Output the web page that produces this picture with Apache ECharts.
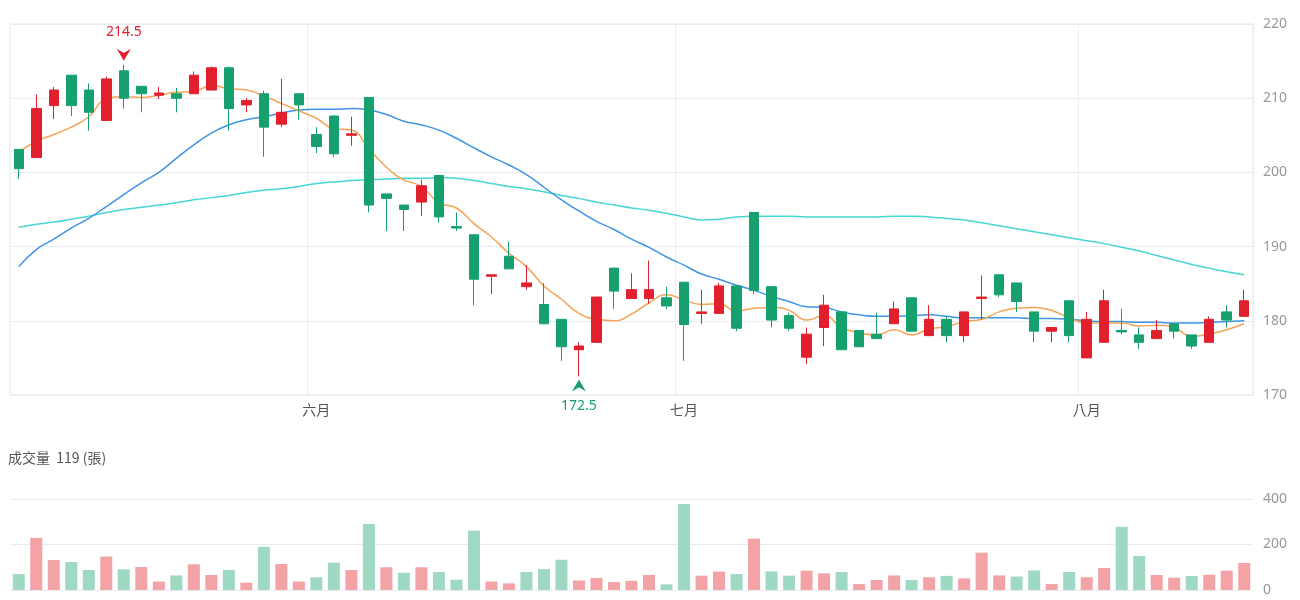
<!DOCTYPE html>
<html>
<head>
<meta charset="utf-8">
<script src="https://cdn.jsdelivr.net/npm/echarts@6/dist/echarts.min.js"></script>
<style>
html,body{margin:0;padding:0;background:#fff;}
#chart{width:1300px;height:600px;}
</style>
</head>
<body>
<div id="chart"></div>
<script>
// ---- data ----
const dates = [
 '2025-05-07','2025-05-08','2025-05-09','2025-05-12','2025-05-13','2025-05-14','2025-05-15','2025-05-16','2025-05-19','2025-05-20',
 '2025-05-21','2025-05-22','2025-05-23','2025-05-26','2025-05-27','2025-05-28','2025-05-29',
 '2025-06-02','2025-06-03','2025-06-04','2025-06-05','2025-06-06','2025-06-09','2025-06-10','2025-06-11','2025-06-12','2025-06-13',
 '2025-06-16','2025-06-17','2025-06-18','2025-06-19','2025-06-20','2025-06-23','2025-06-24','2025-06-25','2025-06-26','2025-06-27','2025-06-30',
 '2025-07-01','2025-07-02','2025-07-03','2025-07-04','2025-07-07','2025-07-08','2025-07-09','2025-07-10','2025-07-11',
 '2025-07-14','2025-07-15','2025-07-16','2025-07-17','2025-07-18','2025-07-21','2025-07-22','2025-07-23','2025-07-24','2025-07-25',
 '2025-07-28','2025-07-29','2025-07-30','2025-07-31',
 '2025-08-01','2025-08-04','2025-08-05','2025-08-06','2025-08-07','2025-08-08','2025-08-11','2025-08-12','2025-08-13','2025-08-14'
];
const monthNames = ['一月','二月','三月','四月','五月','六月','七月','八月','九月','十月','十一月','十二月'];

const opens  = [203.1,202.0,209.0,213.1,211.1,207.0,213.7,211.6,210.4,210.6,210.6,211.1,214.1,209.1,210.6,206.5,210.6,205.1,207.6,205.0,
                210.1,197.1,195.6,196.0,199.6,192.7,191.6,186.0,188.7,184.6,182.2,180.2,176.1,177.1,187.1,183.0,183.0,183.1,185.2,181.0,
                181.0,184.7,194.6,184.6,180.7,175.1,179.1,181.2,178.7,178.2,179.6,183.1,178.0,180.2,178.0,183.0,186.2,185.1,181.2,178.6,
                182.7,175.0,177.1,178.7,178.1,177.6,179.6,178.1,177.1,181.2,180.6];
const closes = [200.5,208.6,211.1,209.0,208.1,212.6,210.0,210.6,210.7,210.0,213.1,214.1,208.6,209.7,206.1,208.1,209.1,203.5,202.5,205.2,
                195.6,196.5,195.0,198.2,194.0,192.5,185.6,186.2,187.0,185.1,179.6,176.5,176.6,183.2,184.0,184.2,184.2,182.0,179.5,181.2,
                184.7,179.0,184.1,180.1,179.0,178.2,182.1,176.1,176.5,177.6,181.6,178.6,180.2,178.0,181.2,183.2,183.5,182.6,178.6,179.1,
                178.0,180.2,182.7,178.5,177.1,178.7,178.6,176.6,180.2,180.1,182.7];
const lows   = [199.1,202.0,207.2,207.6,205.6,207.0,208.6,208.1,209.9,208.1,210.6,211.1,205.6,208.1,202.1,206.1,207.1,202.6,202.1,203.6,
                194.6,192.1,192.1,194.1,193.2,192.1,182.1,183.6,187.0,184.2,179.6,174.6,172.5,177.1,181.6,183.0,182.3,181.6,174.6,179.6,
                181.0,178.6,183.6,179.1,178.6,174.2,176.6,176.1,176.5,177.6,179.6,178.6,178.0,177.1,177.1,180.2,183.2,181.2,177.1,177.1,
                177.1,175.0,177.1,178.2,176.2,177.6,177.6,176.2,177.1,179.1,180.6];
const highs  = [203.1,210.5,211.5,213.1,212.0,212.9,214.5,211.6,211.5,211.4,213.6,214.3,214.3,210.0,211.0,212.6,210.6,206.1,207.6,207.5,
                210.1,197.1,195.6,199.0,199.6,194.6,191.6,186.2,190.7,187.5,185.1,180.2,177.1,183.2,187.1,186.4,188.1,184.6,185.2,184.2,
                185.1,184.7,194.6,184.6,181.1,179.1,183.5,181.2,178.7,181.1,182.6,183.1,182.1,180.6,181.2,186.1,186.2,185.1,181.2,179.1,
                182.7,181.2,184.2,181.6,179.1,180.1,179.6,178.1,180.6,182.1,184.2];

const ma5  = [202.7,204.2,205.1,206.1,207.5,209.9,210.2,210.1,210.4,210.8,210.9,211.7,211.3,211.1,210.3,209.3,208.3,207.3,205.9,205.7,
              203.2,200.7,199.0,198.1,195.9,195.2,193.1,191.3,189.1,187.3,184.7,182.9,181.0,180.2,180.0,180.9,182.4,183.5,182.8,182.2,
              182.3,181.3,181.7,181.8,181.4,180.1,180.7,179.1,178.4,178.1,178.8,178.1,178.9,179.2,179.9,180.2,181.2,181.7,181.8,181.4,
              180.4,179.7,179.7,179.7,179.3,179.4,179.1,177.9,178.2,178.8,179.6];
const ma20 = [187.3,189.6,191.0,192.5,193.8,195.4,197.0,198.6,200.0,201.9,203.7,205.3,206.4,207.1,207.5,208.0,208.4,208.5,208.5,208.6,
              208.4,207.8,206.9,206.4,205.7,204.6,203.3,202.1,201.0,199.7,198.0,196.3,194.8,193.4,192.3,191.0,189.9,188.6,187.5,186.3,
              185.6,184.8,184.1,183.3,182.6,181.9,181.8,181.2,180.8,180.6,180.6,180.7,180.8,180.6,180.4,180.4,180.4,180.4,180.3,180.3,
              180.2,180.0,179.9,179.9,179.8,179.8,179.7,179.7,179.8,179.9,180.0];
const ma60 = [192.6,193.0,193.3,193.7,194.1,194.6,195.0,195.3,195.6,195.9,196.3,196.6,196.9,197.3,197.6,197.8,198.1,198.5,198.7,198.9,
              199.0,199.1,199.2,199.2,199.3,199.2,198.9,198.5,198.1,197.8,197.4,196.9,196.5,196.0,195.6,195.2,194.9,194.5,194.0,193.6,
              193.7,194.0,194.1,194.1,194.1,194.0,194.0,194.0,194.0,194.0,194.1,194.1,194.0,193.8,193.6,193.2,192.8,192.4,192.0,191.6,
              191.2,190.8,190.4,189.9,189.4,188.8,188.2,187.6,187.1,186.6,186.2];

const volumes = [70,229,132,123,88,147,91,101,37,64,113,66,88,32,190,114,37,56,120,88,
                 290,100,76,100,79,45,261,37,29,79,92,133,42,53,35,40,66,25,378,63,
                 81,70,226,82,63,85,73,79,26,44,64,44,56,62,51,164,64,59,86,26,
                 79,56,97,278,149,66,54,62,67,85,119];
// 1 = rising day (red bar), 0 = falling day (green bar)
const volUp = [0,1,1,0,0,1,0,1,1,0,1,1,0,1,0,1,1,0,0,1,
               0,1,0,1,0,0,0,1,1,0,0,0,1,1,1,1,1,0,0,1,
               1,0,1,0,0,1,1,0,1,1,1,0,1,0,1,1,1,0,0,1,
               0,1,1,0,0,1,1,0,1,1,1];

// ---- chart ----
const UP = '#e21f2c', DOWN = '#16a06d';
const VUP = '#f3a2a6', VDOWN = '#9fd9c4';
const font = "'Noto Sans','Noto Sans CJK TC',sans-serif";

const monthOf = d => parseInt(d.slice(5,7),10);
const monthStart = (idx, val) => idx > 0 && monthOf(dates[idx]) !== monthOf(dates[idx-1]);

const candleData = opens.map((o,i) => [o, closes[i], lows[i], highs[i]]);
const volData = volumes.map((v,i) => ({value: v, itemStyle: {color: volUp[i] ? VUP : VDOWN}}));

const chart = echarts.init(document.getElementById('chart'), null, {renderer:'canvas'});
chart.setOption({
  animation: false,
  backgroundColor: '#fff',
  textStyle: {fontFamily: font},
  graphic: [{
    type: 'text', left: 8, top: 451,
    style: {text: '成交量  ' + volumes[volumes.length-1] + ' (張)', fill: '#555', font: "14px 'Noto Sans CJK TC','Noto Sans',sans-serif"}
  }],
  grid: [
    {left: 10, right: 47, top: 24, height: 371, show: true, borderColor: '#e3e6ee', borderWidth: 1, backgroundColor: 'transparent'},
    {left: 10, right: 47, top: 499, height: 91}
  ],
  xAxis: [
    {type: 'category', gridIndex: 0, data: dates, boundaryGap: true,
     axisLine: {show: false}, axisTick: {show: false},
     axisLabel: {interval: monthStart, formatter: v => monthNames[monthOf(v)-1], color: '#555', fontSize: 14, margin: 9, fontFamily: font},
     splitLine: {show: true, interval: monthStart, lineStyle: {color: '#eceef4', width: 1}}},
    {type: 'category', gridIndex: 1, data: dates, boundaryGap: true,
     axisLine: {show: false}, axisTick: {show: false}, axisLabel: {show: false}, splitLine: {show: false}}
  ],
  yAxis: [
    {type: 'value', gridIndex: 0, position: 'right', min: 170, max: 220, interval: 10,
     axisLine: {show: false}, axisTick: {show: false},
     axisLabel: {color: '#999', fontSize: 14, margin: 10},
     splitLine: {lineStyle: {color: '#e8ebf2', width: 1}}},
    {type: 'value', gridIndex: 1, position: 'right', min: 0, max: 400, interval: 200,
     axisLine: {show: false}, axisTick: {show: false},
     axisLabel: {color: '#999', fontSize: 14, margin: 10},
     splitLine: {lineStyle: {color: '#e8ebf2', width: 1}}}
  ],
  series: [
    {name: 'MA60', type: 'line', xAxisIndex: 0, yAxisIndex: 0, data: ma60, smooth: true, showSymbol: false,
     lineStyle: {color: '#48d6d2', width: 1.5}, z: 2},
    {name: 'MA20', type: 'line', xAxisIndex: 0, yAxisIndex: 0, data: ma20, smooth: true, showSymbol: false,
     lineStyle: {color: '#3f94e4', width: 1.5}, z: 2},
    {name: 'MA5', type: 'line', xAxisIndex: 0, yAxisIndex: 0, data: ma5, smooth: true, showSymbol: false,
     lineStyle: {color: '#f5a355', width: 1.5}, z: 2},
    {name: 'K', type: 'candlestick', xAxisIndex: 0, yAxisIndex: 0, data: candleData, barWidth: 10, z: 3,
     itemStyle: {color: UP, color0: DOWN, borderColor: UP, borderColor0: DOWN, borderWidth: 1},
     markPoint: {
       animation: false,
       data: [
         {type: 'max', valueDim: 'highest', symbol: 'path://M0,0 L5,3.5 L10,0 L5,10 Z', symbolSize: [14, 12], symbolOffset: [0, -10],
          itemStyle: {color: UP},
          label: {show: true, position: 'top', distance: 10, color: UP, fontSize: 14, formatter: p => p.value.toFixed(1)}},
         {type: 'min', valueDim: 'lowest', symbol: 'path://M0,10 L5,6.5 L10,10 L5,0 Z', symbolSize: [14, 12], symbolOffset: [0, 9],
          itemStyle: {color: DOWN},
          label: {show: true, position: 'bottom', distance: 8, color: DOWN, fontSize: 14, formatter: p => p.value.toFixed(1)}}
       ]
     }},
    {name: 'Volume', type: 'bar', xAxisIndex: 1, yAxisIndex: 1, data: volData, barWidth: 12}
  ]
});
</script>
</body>
</html>
